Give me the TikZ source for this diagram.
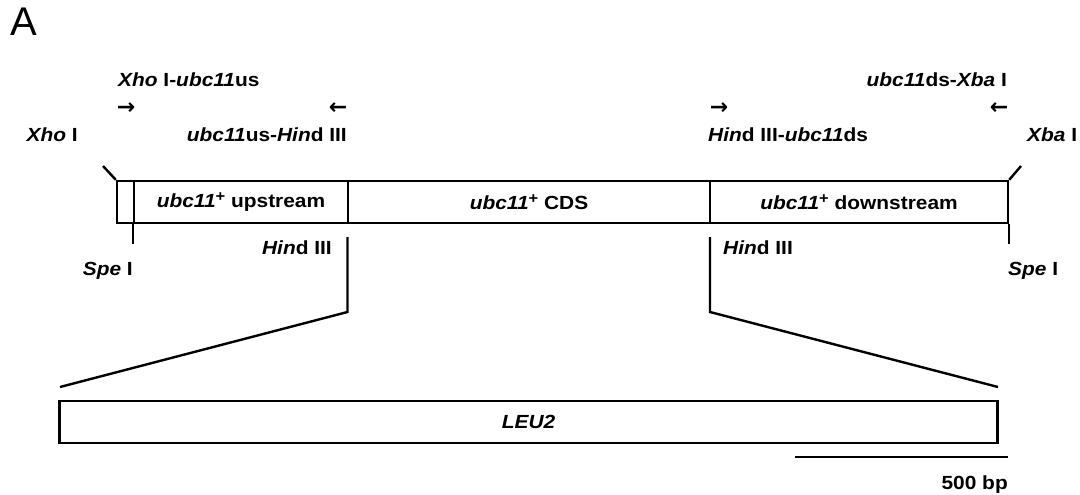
\documentclass[tikz,border=0pt]{standalone}
\usepackage{fontspec}
\setmainfont{Liberation Sans}[FakeStretch=1.1]
\newfontfamily\panelfont{Liberation Sans}
\newfontfamily\arrowfont{DejaVu Sans}
\newcommand{\plus}{\raisebox{6.5pt}{\fontsize{15}{15}\selectfont +}}
\begin{document}
\begin{tikzpicture}[x=1pt,y=-1pt,
  lbl/.style={inner sep=0pt,font=\fontsize{19}{22}\selectfont\bfseries},
  seg/.style={draw,line width=2.4pt,minimum height=42pt,inner sep=0pt,
              font=\fontsize{19}{22}\selectfont\bfseries},
  ln/.style={line width=2.4pt},
  glyph/.style={inner sep=0pt,font=\fontsize{22}{24}\arrowfont\bfseries}]
\useasboundingbox (0,0) rectangle (1080,495);

% panel letter
\node[inner sep=0pt,anchor=base west,font=\fontsize{40}{44}\panelfont] (panel) at (10,36) {A};

% construct bar
\node[seg,minimum width=17pt]  (pad)  at (125.5,202) {};
\node[seg,minimum width=214pt] (up)   at (241,202)   {\textit{ubc11}\plus\ upstream};
\node[seg,minimum width=362pt] (cds)  at (529,202)   {\textit{ubc11}\plus\ CDS};
\node[seg,minimum width=298pt] (down) at (859,202)   {\textit{ubc11}\plus\ downstream};

% primers
\node[lbl,anchor=base west] (p1) at (118,87) {\textit{Xho} I-\textit{ubc11}us};
\node[glyph] (a1) at (126,109) {→};
\node[glyph] (a2) at (338,109) {←};
\node[lbl,anchor=base east] (p2) at (347,142) {\textit{ubc11}us-\textit{Hin}d III};
\node[lbl,anchor=base east] (p4) at (1007,87) {\textit{ubc11}ds-\textit{Xba} I};
\node[glyph] (a3) at (719,109) {→};
\node[glyph] (a4) at (999,109) {←};
\node[lbl,anchor=base west] (p3) at (708,142) {\textit{Hin}d III-\textit{ubc11}ds};

% restriction sites
\node[lbl,anchor=base east] (xho) at (78,142) {\textit{Xho} I};
\node[lbl,anchor=base west] (xba) at (1027,142) {\textit{Xba} I};
\node[lbl,anchor=base east] (speL) at (133,275) {\textit{Spe} I};
\node[lbl,anchor=base west] (speR) at (1008,275) {\textit{Spe} I};
\node[lbl,anchor=base east] (hindL) at (332,254) {\textit{Hin}d III};
\node[lbl,anchor=base west] (hindR) at (723,254) {\textit{Hin}d III};

\coordinate (xhoEnd) at (103,166);
\coordinate (xbaEnd) at (1021,166);
\draw[ln] (pad.north west) -- (xhoEnd);
\draw[ln] (down.north east) -- (xbaEnd);
\draw[ln] (up.south west) -- ++(0,20);
\draw[ln] (down.south east) -- ++(0,20);

% marker cassette
\node[seg,minimum width=938pt,minimum height=42pt,
      font=\fontsize{19}{22}\selectfont\bfseries\itshape] (leu) at (528.5,422) {LEU2};

\coordinate (hL1) at (347.5,237);
\coordinate (hL2) at (347.5,312);
\coordinate (hR1) at (710,237);
\coordinate (hR2) at (710,312);
\coordinate (leuL) at (60,387);
\coordinate (leuR) at (998,387);
\draw[ln] (hL1) -- (hL2) -- (leuL);
\draw[ln] (hR1) -- (hR2) -- (leuR);

% scale bar
\coordinate (sb1) at (795,457);
\coordinate (sb2) at (1008,457);
\draw[ln] (sb1) -- (sb2);
\node[lbl,anchor=base east] (sbl) at (1008,489) {500 bp};
\end{tikzpicture}
\end{document}
